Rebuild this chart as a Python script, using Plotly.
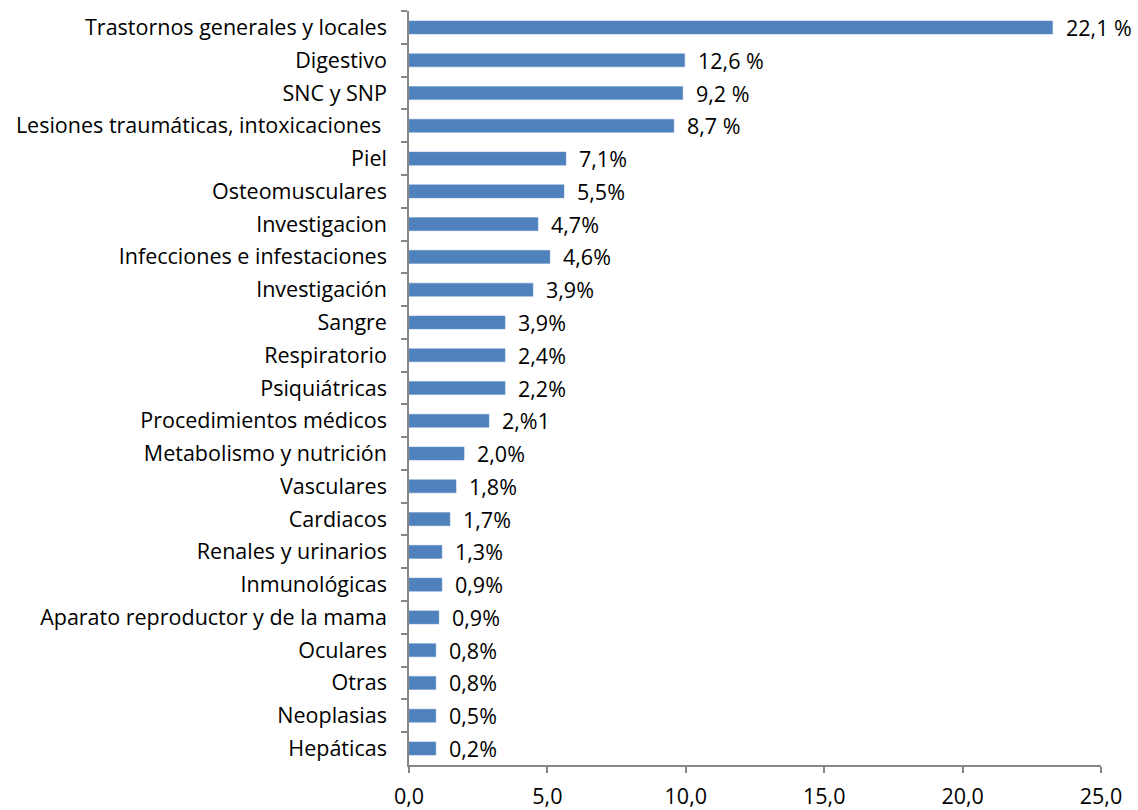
import plotly.graph_objects as go

# Reaction categories, top to bottom
categories = [
    "Trastornos generales y locales", "Digestivo", "SNC y SNP",
    "Lesiones traumáticas, intoxicaciones\u00a0", "Piel", "Osteomusculares",
    "Investigacion", "Infecciones e infestaciones", "Investigación", "Sangre",
    "Respiratorio", "Psiquiátricas", "Procedimientos médicos",
    "Metabolismo y nutrición", "Vasculares", "Cardiacos", "Renales y urinarios",
    "Inmunológicas", "Aparato reproductor y de la mama", "Oculares", "Otras",
    "Neoplasias", "Hepáticas",
]

# Bar lengths
values = [
    23.25, 9.96, 9.89, 9.57, 5.67, 5.60, 4.66, 5.09, 4.48, 3.47, 3.47, 3.47,
    2.89, 1.99, 1.70, 1.48, 1.19, 1.19, 1.08, 0.97, 0.97, 0.97, 0.97,
]

# Data label text shown beside each bar
label_text = [
    "22,1 %", "12,6 %", "9,2 %", "8,7 %", "7,1%", "5,5%", "4,7%", "4,6%",
    "3,9%", "3,9%", "2,4%", "2,2%", "2,%1", "2,0%", "1,8%", "1,7%", "1,3%",
    "0,9%", "0,9%", "0,8%", "0,8%", "0,5%", "0,2%",
]

x_ticks = [0, 5, 10, 15, 20, 25]

FONT = "'Open Sans', Lato, sans-serif"
FONT_SIZE = 21.5
AXIS_GREY = "#868686"

fig = go.Figure()
fig.add_trace(go.Bar(
    x=values,
    y=categories,
    orientation="h",
    marker=dict(color="#4F81BD", line=dict(color="#6A95CA", width=0.5)),
    hoverinfo="x+y",
))

for cat, val, txt in zip(categories, values, label_text):
    fig.add_annotation(
        x=val, y=cat, text=txt, showarrow=False,
        xanchor="left", yanchor="middle", xshift=11,
        font=dict(family=FONT, size=FONT_SIZE, color="#000000"),
    )

fig.update_layout(
    width=1138, height=810,
    margin=dict(l=409, r=37, t=11, b=45),
    paper_bgcolor="white", plot_bgcolor="white",
    separators=", ",
    bargap=0.6,
    showlegend=False,
    font=dict(family=FONT, size=FONT_SIZE, color="#000000"),
)

fig.update_xaxes(
    range=[0, 25], tickvals=x_ticks, tickformat=".1f",
    showgrid=False, zeroline=False, automargin=False,
    showline=True, linecolor=AXIS_GREY, linewidth=1.5,
    ticks="outside", ticklen=6, tickcolor=AXIS_GREY, tickwidth=1.5,
    ticklabelstandoff=5,
)
fig.update_yaxes(
    autorange="reversed", categoryorder="array", categoryarray=categories,
    showgrid=False, zeroline=False, automargin=False,
    showline=True, linecolor=AXIS_GREY, linewidth=1.5,
    ticks="outside", ticklen=6, tickcolor=AXIS_GREY, tickwidth=1.5,
    tickson="boundaries", ticklabelstandoff=16,
)

fig.write_html("out.html")
